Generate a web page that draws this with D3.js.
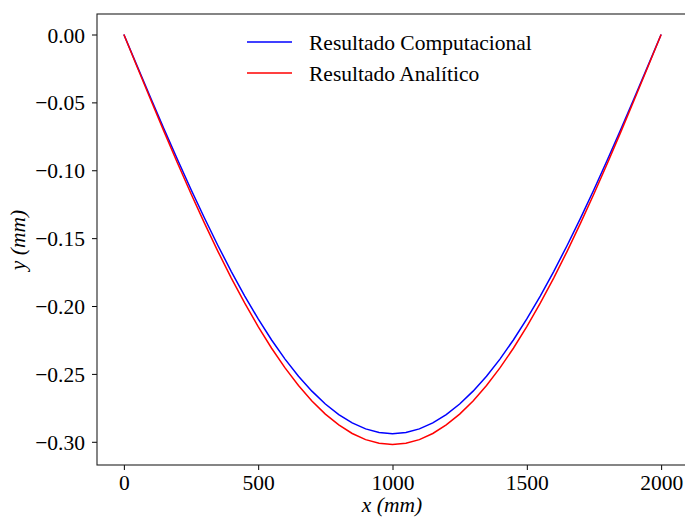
<!DOCTYPE html>
<html>
<head>
<meta charset="utf-8">
<script src="https://cdn.jsdelivr.net/npm/d3@7"></script>
<style>
  body { margin: 0; background: #fff; }
  svg text { font-family: "Liberation Serif", "Times New Roman", serif; fill: #000; }
</style>
</head>
<body>
<svg id="chart" width="685" height="520"></svg>
<script>
(function() {

// posições ao longo da viga (mm)
var xs = [0, 50, 100, 150, 200, 250, 300, 350, 400, 450, 500, 550, 600, 650, 700, 750, 800, 850, 900, 950,
	1000, 1050, 1100, 1150, 1200, 1250, 1300, 1350, 1400, 1450, 1500, 1550, 1600, 1650, 1700, 1750, 1800,
	1850, 1900, 1950, 2000];

// deslocamentos (mm)
var computacional = [0, -0.0235, -0.0468, -0.0698, -0.0923, -0.1142, -0.1352, -0.1554, -0.1746, -0.1927,
	-0.2095, -0.2250, -0.2391, -0.2517, -0.2627, -0.2722, -0.2800, -0.2861, -0.2905, -0.2931, -0.2940,
	-0.2931, -0.2905, -0.2861, -0.2800, -0.2722, -0.2627, -0.2517, -0.2391, -0.2250, -0.2095, -0.1927,
	-0.1746, -0.1554, -0.1352, -0.1142, -0.0923, -0.0698, -0.0468, -0.0235, 0];

var analitico = [0, -0.0241, -0.0481, -0.0717, -0.0948, -0.1173, -0.1389, -0.1597, -0.1794, -0.1979,
	-0.2152, -0.2311, -0.2456, -0.2585, -0.2699, -0.2796, -0.2876, -0.2939, -0.2984, -0.3011, -0.3020,
	-0.3011, -0.2984, -0.2939, -0.2876, -0.2796, -0.2699, -0.2585, -0.2456, -0.2311, -0.2152, -0.1979,
	-0.1794, -0.1597, -0.1389, -0.1173, -0.0948, -0.0717, -0.0481, -0.0241, 0];

var xTicks = [0, 500, 1000, 1500, 2000];
var yTicks = [0, -0.05, -0.10, -0.15, -0.20, -0.25, -0.30];

var series = [
	{ nome: "Resultado Computacional", cor: "#0000ff", valores: computacional },
	{ nome: "Resultado Analítico", cor: "#ff0000", valores: analitico }
];

var esq = 97, topo = 14, dir = 688, base = 465,
	fonte = '21.5px';

var x = d3.scaleLinear().domain([-100, 2100]).range([esq, dir]);
var y = d3.scaleLinear().domain([0.0151, -0.3171]).range([topo, base]);

var svg = d3.select('#chart');

// linhas
var linha = function(valores) {
	return d3.line()
		.x(function(d, i) { return x(xs[i]); })
		.y(function(d) { return y(d); })(valores);
};

svg.selectAll('.serie').data(series).enter()
	.append('path')
		.attr('class', 'serie')
		.attr('fill', 'none')
		.attr('stroke', function(d) { return d.cor; })
		.attr('stroke-width', 1.5)
		.attr('d', function(d) { return linha(d.valores); });

// eixos
var fmtY = function(d) { return d3.format('.2f')(d).replace('-', '\u2212'); };

var eixoX = svg.append('g')
	.attr('transform', 'translate(0,' + base + ')')
	.call(d3.axisBottom(x).tickValues(xTicks).tickSize(5).tickPadding(5).tickFormat(d3.format('d')));

var eixoY = svg.append('g')
	.attr('transform', 'translate(' + esq + ',0)')
	.call(d3.axisLeft(y).tickValues(yTicks).tickSize(5).tickPadding(7).tickFormat(fmtY));

[eixoX, eixoY].forEach(function(g) {
	g.select('.domain').remove();
	g.selectAll('.tick line').attr('stroke', '#000').attr('stroke-width', 1);
	g.selectAll('.tick text')
		.attr('font-family', '"Liberation Serif", serif')
		.attr('font-size', fonte)
		.attr('fill', '#000');
});
eixoY.selectAll('.tick text').attr('dy', '0.35em');

// moldura
svg.append('rect')
	.attr('x', esq)
	.attr('y', topo)
	.attr('width', dir - esq)
	.attr('height', base - topo)
	.attr('fill', 'none')
	.attr('stroke', '#222')
	.attr('stroke-width', 1.1);

// rótulos
svg.append('text')
	.attr('x', 392)
	.attr('y', 512)
	.attr('text-anchor', 'middle')
	.attr('font-size', fonte)
	.attr('font-style', 'italic')
	.text('x (mm)');

svg.append('text')
	.attr('transform', 'translate(25,240) rotate(-90)')
	.attr('text-anchor', 'middle')
	.attr('font-size', fonte)
	.attr('font-style', 'italic')
	.text('y (mm)');

// legenda
var legenda = svg.selectAll('.legenda').data(series).enter()
	.append('g')
		.attr('class', 'legenda')
		.attr('transform', function(d, i) { return 'translate(247,' + (42 + i * 31) + ')'; });

legenda.append('line')
	.attr('x1', 0).attr('x2', 45)
	.attr('stroke', function(d) { return d.cor; })
	.attr('stroke-width', 1.5);

legenda.append('text')
	.attr('x', 62)
	.attr('dy', '0.35em')
	.attr('font-size', fonte)
	.text(function(d) { return d.nome; });

})();
</script>
</body>
</html>
